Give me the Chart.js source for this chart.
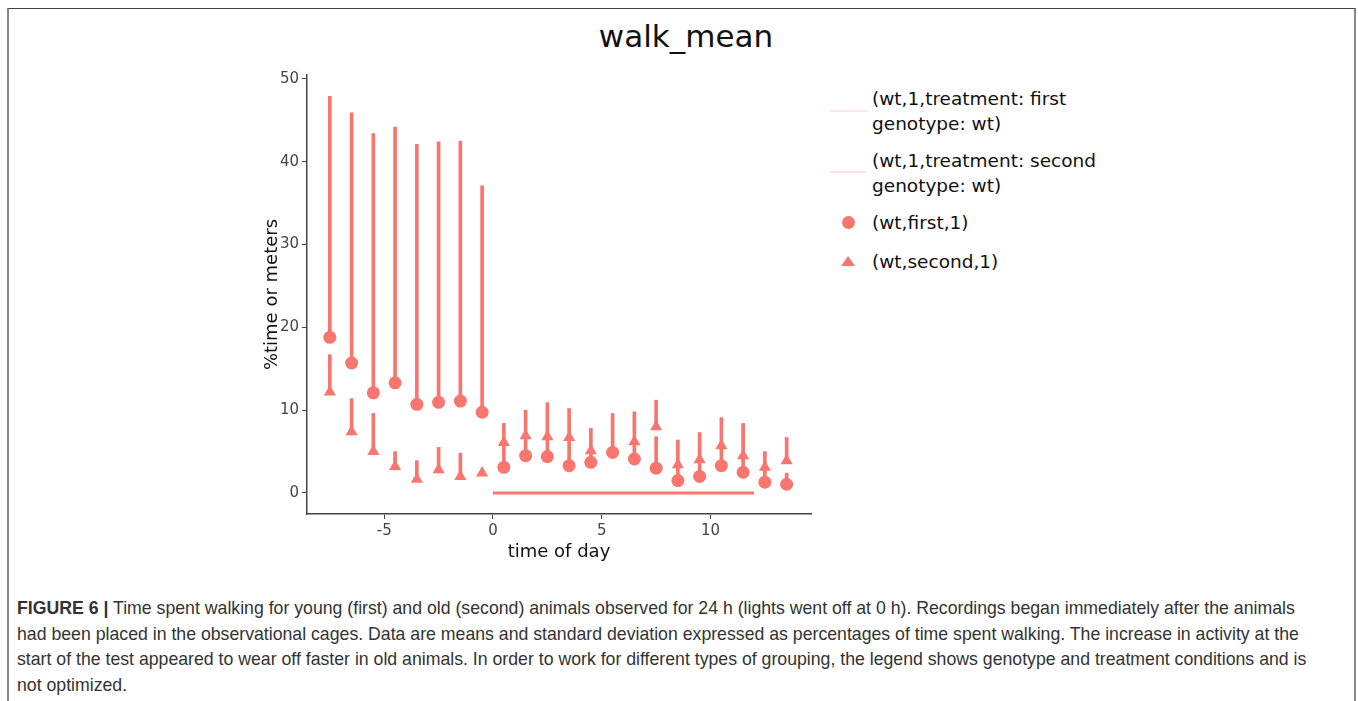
<!DOCTYPE html>
<html lang="en">
<head>
<meta charset="UTF-8">
<title>walk_mean</title>
<style>
  body { margin: 0; background: #fff; width: 1358px; height: 701px; overflow: hidden; position: relative; }
  .frame { position: absolute; left: 7px; top: 8px; width: 1345px; height: 720px;
           border-top: 1.5px solid #444; border-left: 2px solid #888; border-right: 2px solid #888; }
  #titre { position: absolute; left: 486px; width: 400px; top: 16px; line-height: 40px; text-align: center;
           font-family: "DejaVu Sans", sans-serif; font-size: 31px; color: #111; }
  #zone { position: absolute; left: 230px; top: 60px; width: 600px; height: 510px; }
  .leg { position: absolute; left: 872px; font-family: "DejaVu Sans", sans-serif; font-size: 18.5px;
         line-height: 25px; color: #111; white-space: nowrap; }
  .trait { position: absolute; left: 830px; width: 37px; height: 2px; background: #fde6e4; }
  .rond { position: absolute; width: 13px; height: 13px; border-radius: 50%; background: #F8766D; }
  .tri { position: absolute; width: 0; height: 0; border-left: 7px solid transparent; border-right: 7px solid transparent;
         border-bottom: 10px solid #F8766D; }
  #legende { position: absolute; left: 17px; top: 596px; font-family: "Liberation Sans", Arial, sans-serif;
             font-size: 17.7px; line-height: 25.7px; color: #333; white-space: nowrap; }
</style>
</head>
<body>
<div class="frame"></div>
<div id="titre">walk_mean</div>
<div id="zone"><canvas id="grafico" width="600" height="510"></canvas></div>

<div class="trait" style="top:110px"></div>
<div class="leg" style="top:86px">(wt,1,treatment: first<br>genotype: wt)</div>
<div class="trait" style="top:171px"></div>
<div class="leg" style="top:148px">(wt,1,treatment: second<br>genotype: wt)</div>
<div class="rond" style="left:842px; top:216px"></div>
<div class="leg" style="top:210px">(wt,first,1)</div>
<div class="tri" style="left:841px; top:256px"></div>
<div class="leg" style="top:249px">(wt,second,1)</div>

<div id="legende"><b>FIGURE 6 |</b> Time spent walking for young (first) and old (second) animals observed for 24 h (lights went off at 0 h). Recordings began immediately after the animals<br>had been placed in the observational cages. Data are means and standard deviation expressed as percentages of time spent walking. The increase in activity at the<br>start of the test appeared to wear off faster in old animals. In order to work for different types of grouping, the legend shows genotype and treatment conditions and is<br>not optimized.</div>

<script src="https://cdn.jsdelivr.net/npm/chart.js"></script>
<script>
  // dados
  const horas = [-7.5, -6.5, -5.5, -4.5, -3.5, -2.5, -1.5, -0.5, 0.5, 1.5, 2.5, 3.5, 4.5, 5.5, 6.5, 7.5, 8.5, 9.5, 10.5, 11.5, 12.5, 13.5]
  const mediaFirst = [18.8, 15.7, 12.1, 13.3, 10.7, 10.95, 11.1, 9.75, 3.1, 4.5, 4.4, 3.3, 3.7, 4.9, 4.1, 3.0, 1.5, 2.0, 3.3, 2.5, 1.3, 1.05]
  const topoFirst = [47.9, 45.9, 43.4, 44.2, 42.1, 42.4, 42.5, 37.1, 6.0, 6.5, 6.8, 6.5, 5.0, 5.5, 6.0, 6.8, 3.4, 3.9, 5.5, 4.4, 2.9, 2.4]
  const mediaSecond = [12.2, 7.4, 5.0, 3.2, 1.65, 2.8, 2.0, 2.4, 6.1, 6.9, 6.8, 6.7, 5.1, 5.0, 6.2, 8.0, 3.4, 4.0, 5.7, 4.5, 3.1, 3.9]
  const topoSecond = [16.7, 11.4, 9.6, 5.0, 3.9, 5.5, 4.8, 2.4, 8.4, 10.0, 10.9, 10.2, 7.8, 9.6, 9.8, 11.2, 6.4, 7.3, 9.1, 8.4, 5.0, 6.7]
  const luzX = [0, 12]
  const luzY = [0, 0]
  const ticksX = [-5, 0, 5, 10]
  const ticksY = [0, 10, 20, 30, 40, 50]

  const cor = '#F8766D'
  const ctx = document.getElementById('grafico')

  const pontos = (ys) => horas.map((h, i) => ({ x: h, y: ys[i] }))
  const barras = (lo, hi) => horas.map((h, i) => ({ x: h, y: [lo[i], hi[i]] }))

  let grafico = new Chart(ctx, {
    type: 'scatter',
    data: {
      datasets: [
        { type: 'bar', data: barras(mediaFirst, topoFirst), backgroundColor: cor, barThickness: 3, grouped: false, order: 3 },
        { type: 'bar', data: barras(mediaSecond, topoSecond), backgroundColor: cor, barThickness: 3, grouped: false, order: 3 },
        { type: 'line', data: luzX.map((x, i) => ({ x: x, y: luzY[i] })), borderColor: cor, borderWidth: 3,
          pointRadius: 0, showLine: true, order: 2 },
        { label: '(wt,first,1)', data: pontos(mediaFirst), backgroundColor: cor, borderColor: cor,
          pointStyle: 'circle', pointRadius: 6.5, borderWidth: 0, order: 1 },
        { label: '(wt,second,1)', data: pontos(mediaSecond), backgroundColor: cor, borderColor: cor,
          pointStyle: 'triangle', pointRadius: 7, borderWidth: 0, order: 1 }
      ]
    },
    options: {
      responsive: false,
      maintainAspectRatio: false,
      animation: false,
      layout: { padding: { left: 0, top: 15, right: 19, bottom: 0 } },
      plugins: { legend: { display: false }, tooltip: { enabled: false } },
      scales: {
        x: {
          type: 'linear', min: -8.55, max: 14.62, offset: false,
          afterBuildTicks: s => { s.ticks = ticksX.map(v => ({ value: v })) },
          afterFit: s => { s.height = 56 },
          grid: { offset: false, drawOnChartArea: false, drawTicks: true, tickLength: 5, color: '#444' },
          border: { display: true, color: '#444', width: 1.5 },
          ticks: { color: '#444', font: { family: 'DejaVu Sans', size: 15 }, padding: 3, maxRotation: 0 },
          title: { display: true, text: 'time of day', color: '#111', font: { family: 'DejaVu Sans', size: 18 },
                   padding: { top: 0, bottom: 7 } }
        },
        y: {
          type: 'linear', min: -2.54, max: 50.48,
          afterBuildTicks: s => { s.ticks = ticksY.map(v => ({ value: v })) },
          afterFit: s => { s.width = 77 },
          grid: { offset: false, drawOnChartArea: false, drawTicks: true, tickLength: 5, color: '#444' },
          border: { display: true, color: '#444', width: 1.5 },
          ticks: { color: '#444', font: { family: 'DejaVu Sans', size: 15 }, padding: 3 },
          title: { display: true, text: '%time or meters', color: '#111', font: { family: 'DejaVu Sans', size: 18 },
                   padding: { top: 32, bottom: 0 } }
        }
      }
    }
  })
</script>
</body>
</html>
